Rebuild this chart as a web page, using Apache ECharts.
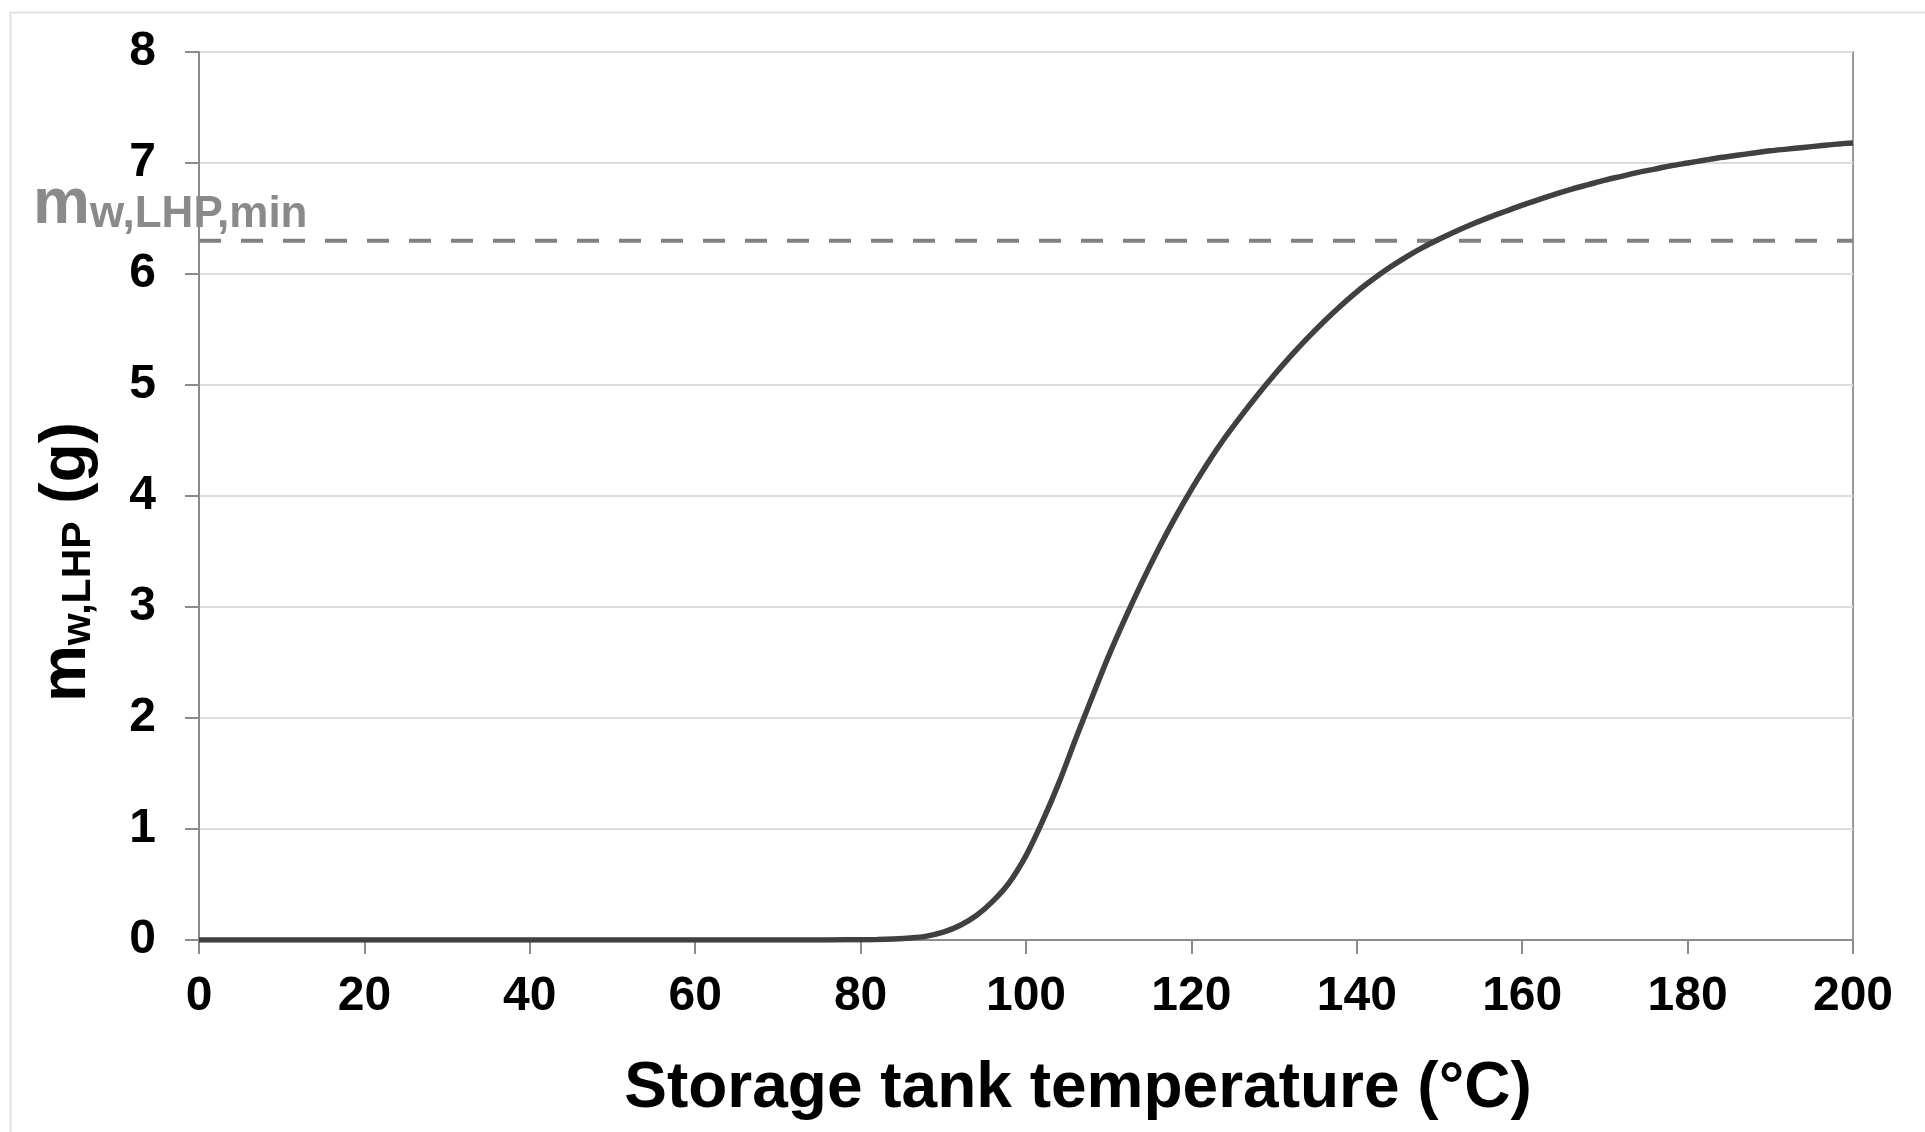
<!DOCTYPE html>
<html>
<head>
<meta charset="utf-8">
<script src="https://cdn.jsdelivr.net/npm/echarts@6/dist/echarts.min.js"></script>
<style>
html,body{margin:0;padding:0;background:#fff;}
#chart{width:1925px;height:1132px;}
</style>
</head>
<body>
<div id="chart"></div>
<script>
// Storage tank temperature (°C)
const temps = [0, 10, 20, 30, 40, 50, 60, 70, 76, 80, 82, 84, 86, 88, 90, 92, 94, 96, 98, 100, 102, 104, 106, 108, 110, 112, 114, 116, 118, 120, 122, 124, 126, 128, 130, 132, 134, 136, 138, 140, 142, 144, 146, 148, 150, 152, 154, 156, 158, 160, 162, 164, 166, 168, 170, 172, 174, 176, 178, 180, 182, 184, 186, 188, 190, 192, 194, 196, 198, 200];
// m_w,LHP (g)
const mass = [0, 0, 0, 0, 0, 0, 0, 0, 0.001, 0.002, 0.004, 0.009, 0.018, 0.035, 0.07, 0.13, 0.22, 0.35, 0.52, 0.76, 1.07, 1.42, 1.81, 2.19, 2.56, 2.90, 3.22, 3.52, 3.80, 4.06, 4.30, 4.52, 4.72, 4.91, 5.09, 5.26, 5.42, 5.57, 5.71, 5.84, 5.955, 6.06, 6.155, 6.24, 6.315, 6.385, 6.45, 6.51, 6.565, 6.62, 6.67, 6.72, 6.765, 6.805, 6.845, 6.88, 6.915, 6.945, 6.975, 7.00, 7.025, 7.05, 7.07, 7.09, 7.11, 7.125, 7.14, 7.155, 7.17, 7.18];
// minimum mass threshold
const thresholdX = [0, 200];
const thresholdY = [6.3, 6.3];
const xTicks = [0, 20, 40, 60, 80, 100, 120, 140, 160, 180, 200];
const yTicks = [0, 1, 2, 3, 4, 5, 6, 7, 8];

const FONT = '"Liberation Sans", Arial, sans-serif';
const chart = echarts.init(document.getElementById('chart'));

chart.setOption({
  backgroundColor: '#ffffff',
  animation: false,
  textStyle: { fontFamily: FONT },
  grid: {
    left: 199, right: 72, top: 52, bottom: 192,
    show: true, borderColor: '#9a9a9a', borderWidth: 2,
    containLabel: false, outerBoundsMode: 'none'
  },
  xAxis: {
    type: 'value',
    min: xTicks[0], max: xTicks[xTicks.length - 1], interval: 20,
    name: 'Storage tank temperature (°C)',
    nameLocation: 'middle', nameGap: 117, nameMoveOverlap: false,
    nameTextStyle: { fontFamily: FONT, fontWeight: 'bold', fontSize: 64, color: '#000', padding: [0, 0, 0, 104] },
    axisLine: { show: true, onZero: false, lineStyle: { color: '#8c8c8c', width: 2 } },
    axisTick: { show: true, inside: false, length: 14, lineStyle: { color: '#8c8c8c', width: 2 } },
    axisLabel: { margin: 33, fontFamily: FONT, fontWeight: 'bold', fontSize: 48, color: '#000' },
    splitLine: { show: false }
  },
  yAxis: {
    type: 'value',
    min: yTicks[0], max: yTicks[yTicks.length - 1], interval: 1,
    name: '{m|m}{s|w,LHP}{n| (g)}',
    nameLocation: 'middle', nameGap: 100, nameMoveOverlap: false,
    nameTextStyle: {
      fontFamily: FONT, fontWeight: 'bold', color: '#000',
      padding: [0, 132, 0, 0],
      rich: {
        m: { fontFamily: FONT, fontWeight: 'bold', fontSize: 64, lineHeight: 80, verticalAlign: 'bottom', color: '#000' },
        s: { fontFamily: FONT, fontWeight: 'bold', fontSize: 41, lineHeight: 40, verticalAlign: 'bottom', color: '#000' },
        n: { fontFamily: FONT, fontWeight: 'bold', fontSize: 64, lineHeight: 80, verticalAlign: 'bottom', color: '#000' }
      }
    },
    axisLine: { show: true, lineStyle: { color: '#8c8c8c', width: 2 } },
    axisTick: { show: true, inside: false, length: 14, lineStyle: { color: '#8c8c8c', width: 2 } },
    axisLabel: { margin: 43, fontFamily: FONT, fontWeight: 'bold', fontSize: 48, color: '#000' },
    splitLine: { show: true, lineStyle: { color: '#dcdcdc', width: 2 } }
  },
  graphic: [
    {
      type: 'rect', left: 8, top: 10, z: -10, silent: true,
      shape: { width: 1930, height: 1140 },
      style: { fill: 'none', stroke: '#e2e2e2', lineWidth: 2 }
    },
    {
      type: 'text', left: 33, top: 173, z: 100,
      style: {
        text: '{m|m}{s|w,LHP,min}',
        rich: {
          m: { fontFamily: FONT, fontWeight: 'bold', fontSize: 64, lineHeight: 80, verticalAlign: 'bottom', fill: '#8a8a8a' },
          s: { fontFamily: FONT, fontWeight: 'bold', fontSize: 44, lineHeight: 26, verticalAlign: 'bottom', fill: '#8a8a8a' }
        }
      }
    }
  ],
  series: [
    {
      type: 'line',
      data: thresholdX.map((x, i) => [x, thresholdY[i]]),
      showSymbol: false, silent: true, z: 2,
      lineStyle: { color: '#808080', width: 4, type: [22, 20] }
    },
    {
      type: 'line',
      data: temps.map((t, i) => [t, mass[i]]),
      showSymbol: false, smooth: 0.3, silent: true, z: 3,
      lineStyle: { color: '#404040', width: 5.5 }
    }
  ]
});
</script>
</body>
</html>
